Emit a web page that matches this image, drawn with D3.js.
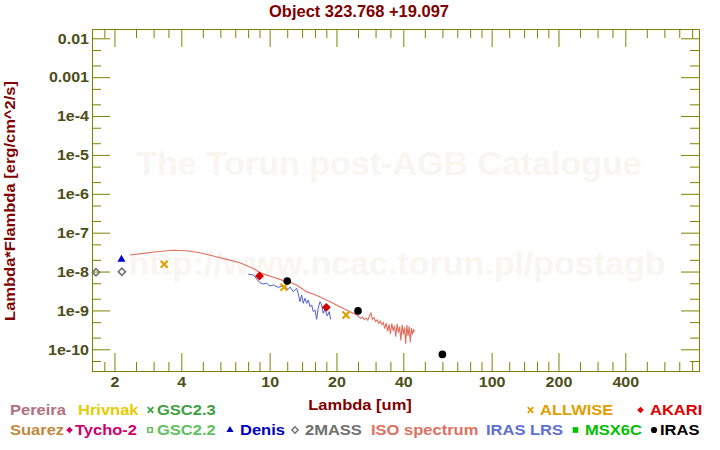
<!DOCTYPE html>
<html>
<head>
<meta charset="utf-8">
<script src="https://cdn.jsdelivr.net/npm/d3@7"></script>
<style>
  body { margin: 0; background: #fff; }
  svg { display: block; }
  text { font-family: "Liberation Sans", Arial, sans-serif; font-weight: bold; }
</style>
</head>
<body>
<svg id="chart" width="720" height="450"></svg>
<script>
// photometry: wavelength [um], lambda*F_lambda [erg/cm^2/s]
const twomassWave = [1.65, 2.16];
const twomassFlux = [9.6e-9, 9.9e-9];
const denisWave = [2.15];
const denisFlux = [2.06e-8];
const allwiseWave = [3.35, 11.6, 22.1];
const allwiseFlux = [1.54e-8, 3.94e-9, 7.6e-10];
const akariWave = [9, 18];
const akariFlux = [7.7e-9, 1.2e-9];
const irasWave = [12, 25, 60];
const irasFlux = [5.7e-9, 9.7e-10, 7.4e-11];

// ISO SWS spectrum
const isoWave = [2.35, 2.7, 3.1, 3.68, 4.23, 4.85, 5.57, 6.4, 7.35, 8.44,
  9.0, 9.69, 10.4, 11.2, 11.9, 12.6, 13.2, 14.0, 14.7, 15.8,
  16.9, 18.0, 19.3, 20.7, 22.2, 23.4, 24.7, 25.2, 25.7, 26.2,
  26.7, 27.2, 27.7, 28.2, 28.6, 29.0, 29.5, 30.0, 30.5, 31.0,
  31.5, 32.0, 32.5, 33.0, 33.5, 34.0, 34.5, 35.0, 35.5, 36.0,
  36.5, 37.0, 37.5, 38.0, 38.5, 39.0, 39.5, 40.0, 40.5, 41.0,
  41.5, 42.0, 42.5, 43.0, 43.5, 44.0, 44.5, 44.8];
const isoFlux = [2.67e-8, 2.94e-8, 3.24e-8, 3.52e-8, 3.44e-8, 3.05e-8, 2.51e-8, 2.06e-8, 1.69e-8, 1.2e-8,
  9.6e-9, 8.1e-9, 7.1e-9, 6.2e-9, 5.5e-9, 5.1e-9, 4.5e-9, 3.6e-9, 3.0e-9, 2.6e-9,
  2.2e-9, 1.85e-9, 1.53e-9, 1.25e-9, 1.03e-9, 8.9e-10, 7.6e-10, 7.0e-10, 6.2e-10, 6.8e-10,
  5.8e-10, 6.4e-10, 5.6e-10, 7.4e-10, 8.6e-10, 5.9e-10, 6.6e-10, 5.2e-10, 5.7e-10, 4.7e-10,
  5.3e-10, 4.3e-10, 4.9e-10, 3.4e-10, 4.7e-10, 2.9e-10, 4.4e-10, 2.5e-10, 4.6e-10, 3.0e-10,
  4.1e-10, 2.1e-10, 4.5e-10, 2.7e-10, 3.8e-10, 1.7e-10, 4.3e-10, 2.4e-10, 3.7e-10, 1.4e-10,
  4.2e-10, 2.2e-10, 3.9e-10, 1.5e-10, 3.5e-10, 2.4e-10, 3.3e-10, 2.8e-10];

// IRAS LRS spectrum
const lrsWave = [8.01, 8.44, 8.74, 9.04, 9.36, 9.69, 10.03, 10.38, 10.93, 11.51,
  12.13, 12.35, 12.78, 13.23, 13.45, 13.69, 13.94, 14.17, 14.42, 14.68,
  14.93, 15.19, 15.46, 15.72, 16.0, 16.28, 16.55, 16.85, 17.15, 17.44,
  17.75, 18.17, 18.55, 18.83];
const lrsFlux = [8.65e-9, 8.15e-9, 6.43e-9, 5.16e-9, 4.78e-9, 4.99e-9, 4.25e-9, 4.51e-9, 3.93e-9, 4.25e-9,
  3.49e-9, 4.0e-9, 3.03e-9, 3.71e-9, 2.75e-9, 1.68e-9, 2.49e-9, 1.52e-9, 2.05e-9, 1.52e-9,
  1.85e-9, 1.25e-9, 1.38e-9, 9.3e-10, 1.03e-9, 5.9e-10, 1.14e-9, 1.68e-9, 1.38e-9, 8.4e-10,
  1.09e-9, 7.2e-10, 9.3e-10, 5.9e-10];

const xTicks = [2, 4, 10, 20, 40, 100, 200, 400];
const xMinorTicks = [1.8, 2.5, 3, 3.5, 5, 6, 7, 8, 9, 12, 14, 16, 18, 25, 30, 35,
  50, 60, 70, 80, 90, 120, 140, 160, 180, 250, 300, 350, 500, 600, 700, 800];
const yTicks = [1e-2, 1e-3, 1e-4, 1e-5, 1e-6, 1e-7, 1e-8, 1e-9, 1e-10];
const yTickLabels = ["0.01", "0.001", "1e-4", "1e-5", "1e-6", "1e-7", "1e-8", "1e-9", "1e-10"];
const yMinorTicks = [5e-3, 2e-3, 5e-4, 2e-4, 5e-5, 2e-5, 5e-6, 2e-6, 5e-7, 2e-7,
  5e-8, 2e-8, 5e-9, 2e-9, 5e-10, 2e-10, 5e-11];

const legendNames = ["Pereira", "Hrivnak", "GSC2.3", "ALLWISE", "AKARI",
  "Suarez", "Tycho-2", "GSC2.2", "Denis", "2MASS", "ISO spectrum", "IRAS LRS", "MSX6C", "IRAS"];

// legend look: colour, symbol, text x, symbol x, row
const legendStyle = {
  "Pereira":      {c: "#b07080", s: null,      tx: 10,  row: 0},
  "Hrivnak":      {c: "#e6cc00", s: null,      tx: 78,  row: 0},
  "GSC2.3":       {c: "#40a040", s: "times",   tx: 157, sx: 150.5, row: 0},
  "ALLWISE":      {c: "#e0a000", s: "times",   tx: 540, sx: 530.5, row: 0},
  "AKARI":        {c: "#e00000", s: "diamond", tx: 650, sx: 640.5, row: 0},
  "Suarez":       {c: "#c08840", s: null,      tx: 10,  row: 1},
  "Tycho-2":      {c: "#d0006a", s: "diamond", tx: 75,  sx: 69.5, row: 1},
  "GSC2.2":       {c: "#60c060", s: "square",  tx: 157, sx: 150, row: 1},
  "Denis":        {c: "#0000c0", s: "triangle",tx: 240, sx: 230, row: 1},
  "2MASS":        {c: "#707070", s: "odiamond",tx: 305, sx: 295, row: 1},
  "ISO spectrum": {c: "#e07060", s: null,      tx: 371, row: 1},
  "IRAS LRS":     {c: "#6070d0", s: null,      tx: 486, row: 1},
  "MSX6C":        {c: "#00c000", s: "fsquare", tx: 585, sx: 575.5, row: 1},
  "IRAS":         {c: "#000000", s: "circle",  tx: 660, sx: 654, row: 1}
};

const axisColor = "#808000";
const tickTextColor = "#4d4d18";
const titleColor = "#800000";
const plotLeft = 92, plotRight = 699, plotTop = 29, plotBottom = 371;

const svg = d3.select("#chart");

const x = d3.scaleLog().domain([1.584, 859]).range([plotLeft, plotRight]);
const y = d3.scaleLog().domain([2.767e-11, 1.734e-2]).range([plotBottom, plotTop]);

// watermark
svg.append("text")
    .attr("x", 389).attr("y", 175)
    .attr("text-anchor", "middle")
    .style("font-size", "34px")
    .attr("fill", "#f8f6f1")
    .text("The Torun post-AGB Catalogue");
svg.append("text")
    .attr("x", 397).attr("y", 275)
    .attr("text-anchor", "middle")
    .style("font-size", "34px")
    .attr("fill", "#f8f6f1")
    .text("http://www.ncac.torun.pl/postagb");

function styleAxis(g) {
  g.select(".domain").attr("stroke", axisColor);
  g.selectAll(".tick line").attr("stroke", axisColor);
}

// minor ticks on all four sides
svg.append("g").attr("transform", `translate(0,${plotBottom})`)
    .call(d3.axisBottom(x).tickValues(xMinorTicks).tickSizeInner(-9).tickSizeOuter(0).tickFormat(""))
    .call(styleAxis);
svg.append("g").attr("transform", `translate(0,${plotTop})`)
    .call(d3.axisTop(x).tickValues(xMinorTicks).tickSizeInner(-9).tickSizeOuter(0).tickFormat(""))
    .call(styleAxis);
svg.append("g").attr("transform", `translate(${plotLeft},0)`)
    .call(d3.axisLeft(y).tickValues(yMinorTicks).tickSizeInner(-9).tickSizeOuter(0).tickFormat(""))
    .call(styleAxis);
svg.append("g").attr("transform", `translate(${plotRight},0)`)
    .call(d3.axisRight(y).tickValues(yMinorTicks).tickSizeInner(-9).tickSizeOuter(0).tickFormat(""))
    .call(styleAxis);

// major ticks
const tk = 1.07;
svg.append("g").attr("transform", `translate(0,${plotBottom})`)
    .call(d3.axisBottom(x).tickValues(xTicks).tickSizeInner(-18).tickSizeOuter(0).tickPadding(5.5).tickFormat(d => d))
    .call(styleAxis)
    .call(g => g.selectAll(".tick text")
        .attr("fill", tickTextColor).style("font-size", "15px")
        .attr("transform", `scale(${tk},1)`));
svg.append("g").attr("transform", `translate(0,${plotTop})`)
    .call(d3.axisTop(x).tickValues(xTicks).tickSizeInner(-18).tickSizeOuter(0).tickFormat(""))
    .call(styleAxis);
svg.append("g").attr("transform", `translate(${plotLeft},0)`)
    .call(d3.axisLeft(y).tickValues(yTicks).tickSizeInner(-18).tickSizeOuter(0).tickPadding(3)
      .tickFormat((d, i) => yTickLabels[i]))
    .call(styleAxis)
    .call(g => g.selectAll(".tick text")
        .attr("fill", tickTextColor).style("font-size", "15px")
        .attr("x", -3 / tk)
        .attr("transform", `scale(${tk},1)`));
svg.append("g").attr("transform", `translate(${plotRight},0)`)
    .call(d3.axisRight(y).tickValues(yTicks).tickSizeInner(-18).tickSizeOuter(0).tickFormat(""))
    .call(styleAxis);

// spectra
const line = d3.line().x(d => x(d[0])).y(d => y(d[1]));
svg.append("path")
    .datum(d3.zip(isoWave, isoFlux))
    .attr("fill", "none")
    .attr("stroke", "#e07060")
    .attr("stroke-width", 1.1)
    .attr("d", line);
svg.append("path")
    .datum(d3.zip(lrsWave, lrsFlux))
    .attr("fill", "none")
    .attr("stroke", "#5060d0")
    .attr("stroke-width", 1)
    .attr("d", line);

// photometry markers
function markers(wave, flux, type, size, fill, stroke, sw, rot) {
  svg.append("g").selectAll("path")
    .data(d3.zip(wave, flux))
    .join("path")
      .attr("transform", d => `translate(${x(d[0])},${y(d[1])}) rotate(${rot || 0})`)
      .attr("d", d3.symbol(type, size))
      .attr("fill", fill)
      .attr("stroke", stroke)
      .attr("stroke-width", sw);
}
markers(twomassWave, twomassFlux, d3.symbolSquare, 26, "none", "#707070", 1.6, 45);
markers(denisWave, denisFlux, d3.symbolTriangle, 28, "#0000cc", "none", 0);
markers(allwiseWave, allwiseFlux, d3.symbolTimes, 34, "none", "#e0a000", 2.2);
markers(akariWave, akariFlux, d3.symbolSquare, 40, "#d00000", "none", 0, 45);
markers(irasWave, irasFlux, d3.symbolCircle, 46, "#000000", "none", 0);

// title and axis names
const ts = 1.18;
svg.append("text")
    .attr("transform", "translate(359,16.7) scale(1.03,1)")
    .attr("text-anchor", "middle")
    .style("font-size", "16px")
    .attr("fill", titleColor)
    .text("Object 323.768 +19.097");
svg.append("text")
    .attr("transform", `translate(360,410) scale(${ts},1)`)
    .attr("text-anchor", "middle")
    .style("font-size", "14px")
    .attr("fill", titleColor)
    .text("Lambda [um]");
svg.append("text")
    .attr("transform", `translate(15,201) rotate(-90) scale(${ts},1)`)
    .attr("text-anchor", "middle")
    .style("font-size", "14px")
    .attr("fill", titleColor)
    .text("Lambda*Flambda [erg/cm^2/s]");

// legend
const rowY = [415, 435];
const legendSymbols = {
  times:    {t: d3.symbolTimes, size: 22, fill: "none", sw: 1.8, rot: 0},
  diamond:  {t: d3.symbolSquare, size: 22, sw: 0, rot: 45},
  square:   {t: d3.symbolSquare, size: 20, fill: "none", sw: 1.5, rot: 0},
  triangle: {t: d3.symbolTriangle, size: 22, sw: 0, rot: 0},
  odiamond: {t: d3.symbolSquare, size: 20, fill: "none", sw: 1.4, rot: 45},
  fsquare:  {t: d3.symbolSquare, size: 32, sw: 0, rot: 0},
  circle:   {t: d3.symbolCircle, size: 30, sw: 0, rot: 0}
};
const legend = svg.append("g");
legendNames.forEach(name => {
  const st = legendStyle[name];
  const by = rowY[st.row];
  if (st.s) {
    const sym = legendSymbols[st.s];
    legend.append("path")
        .attr("transform", `translate(${st.sx},${by - 5}) rotate(${sym.rot})`)
        .attr("d", d3.symbol(sym.t, sym.size))
        .attr("fill", sym.fill === "none" ? "none" : st.c)
        .attr("stroke", sym.sw ? st.c : "none")
        .attr("stroke-width", sym.sw);
  }
  legend.append("text")
      .attr("transform", `translate(${st.tx},${by}) scale(${ts},1)`)
      .style("font-size", "14px")
      .attr("fill", st.c)
      .text(name);
});
</script>
</body>
</html>
